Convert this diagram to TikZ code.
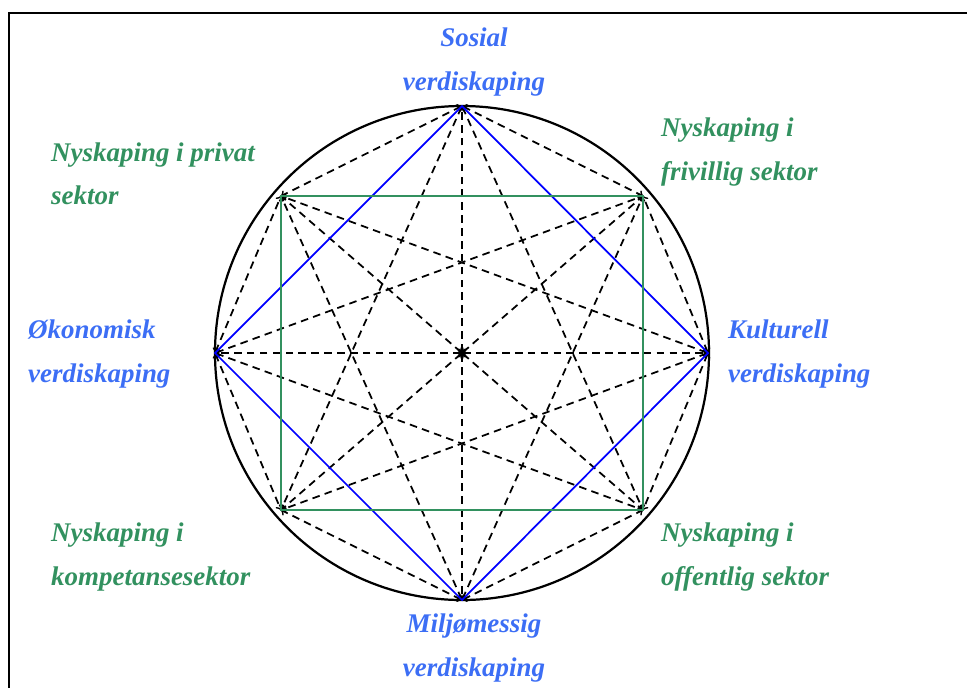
\documentclass[tikz,border=0pt]{standalone}
\usepackage{fontspec}
\setmainfont{Liberation Serif}
\definecolor{blatekst}{RGB}{60,110,245}
\definecolor{gronn}{RGB}{50,145,95}

\begin{document}
\begin{tikzpicture}[x=0.03cm,y=-0.03cm,
    stiplet/.style={dash pattern=on 6.5pt off 4.5pt,line width=1.5pt,<->},
    blalinje/.style={blue,line width=1.5pt},
    gronnlinje/.style={gronn,line width=1.5pt},
    etikett/.style={font=\fontsize{23}{37}\selectfont\bfseries\itshape,inner sep=0pt}]
      \useasboundingbox (0,0) rectangle (967,687);
      \clip (0,0) rectangle (967,687);
      \draw[line width=2.2pt] (9,700) |- (990,13);
      \draw[line width=1.9pt] (462,353) circle[radius=247];
      % punkter
      \coordinate (c) at (462,353);
      \coordinate (sos) at (462,106);
      \coordinate (milj) at (462,600);
      \coordinate (oko) at (215,353);
      \coordinate (kult) at (708,353);
      \coordinate (priv) at (281,196);
      \coordinate (friv) at (643,196);
      \coordinate (komp) at (281,510);
      \coordinate (offe) at (643,510);
      % stiplede linjer
      \foreach \a in {sos,milj,oko,kult}
        \foreach \b in {priv,friv,komp,offe}
          \draw[stiplet] (\a) -- (\b);
      \foreach \a in {sos,milj,oko,kult,priv,friv,komp,offe}
        \draw[stiplet] (c) -- (\a);
      \draw[blalinje] (sos) -- (kult) -- (milj) -- (oko) -- cycle;
      \draw[gronnlinje] (priv) -- (friv) -- (offe) -- (komp) -- cycle;
      % tekst
      \node[etikett,text=blatekst,align=center] (sosial) at (474,62) {Sosial\\verdiskaping};
      \node[etikett,text=blatekst,align=center] (miljo) at (474,648) {Miljømessig\\verdiskaping};
      \node[etikett,text=blatekst,align=left,anchor=west] (okonomisk) at (28,354) {Økonomisk\\verdiskaping};
      \node[etikett,text=blatekst,align=left,anchor=west] (kulturell) at (728,354) {Kulturell\\verdiskaping};
      \node[etikett,text=gronn,align=left,anchor=west] (privat) at (51,174) {Nyskaping i privat\\sektor};
      \node[etikett,text=gronn,align=left,anchor=west] (frivillig) at (661,152) {Nyskaping i\\frivillig sektor};
      \node[etikett,text=gronn,align=left,anchor=west] (kompetanse) at (51,557) {Nyskaping i\\kompetansesektor};
      \node[etikett,text=gronn,align=left,anchor=west] (offentlig) at (661,557) {Nyskaping i\\offentlig sektor};
    \end{tikzpicture}
\end{document}
